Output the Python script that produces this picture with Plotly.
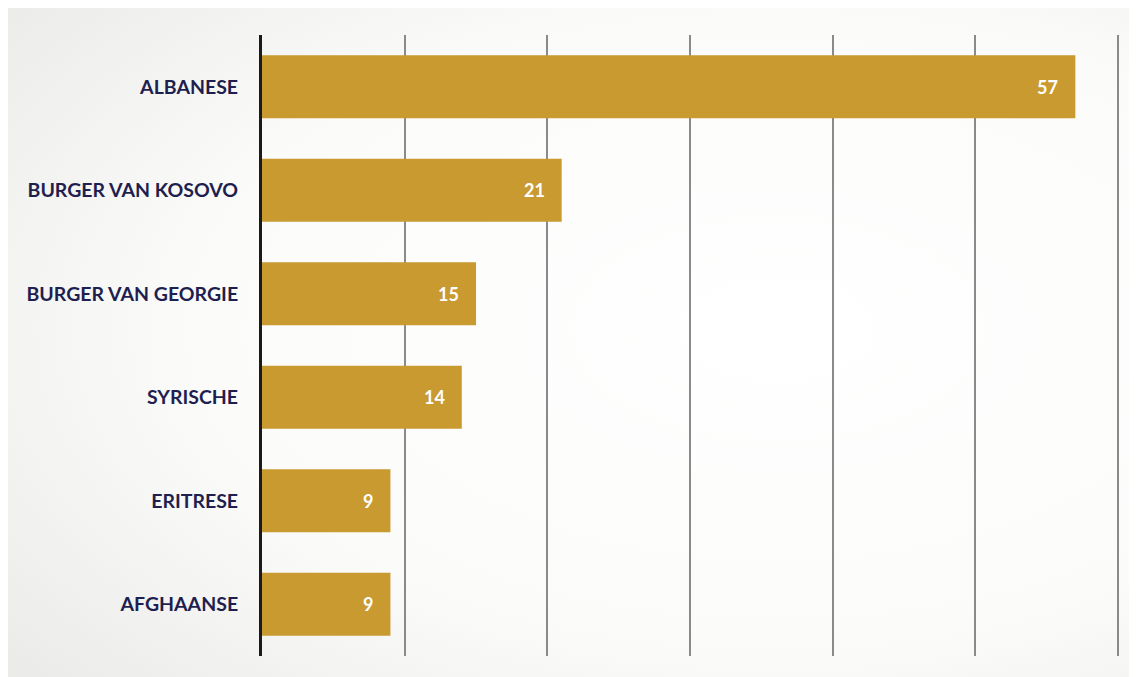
import plotly.graph_objects as go
import base64

categories = ["ALBANESE", "BURGER VAN KOSOVO", "BURGER VAN GEORGIE", "SYRISCHE", "ERITRESE", "AFGHAANSE"]
values = [57, 21, 15, 14, 9, 9]

bar_color = "#c89a30"
label_color = "#1f1f4f"

svg = (
    '<svg xmlns="http://www.w3.org/2000/svg" width="1137" height="677" viewBox="0 0 1137 677" preserveAspectRatio="none">'
    '<defs><radialGradient id="g" cx="0.55" cy="0.45" r="0.75">'
    '<stop offset="0" stop-color="#ffffff"/><stop offset="0.45" stop-color="#fbfbfa"/>'
    '<stop offset="0.8" stop-color="#e9e9e7"/><stop offset="1" stop-color="#dadad8"/>'
    '</radialGradient></defs><rect width="1137" height="677" fill="url(#g)"/></svg>'
)
bg_src = "data:image/svg+xml;base64," + base64.b64encode(svg.encode()).decode()

fig = go.Figure()
fig.add_trace(go.Bar(
    y=categories, x=values, orientation="h",
    marker=dict(color=bar_color, line=dict(width=0)),
    width=0.61,
    hoverinfo="skip",
))

for c, v in zip(categories, values):
    fig.add_annotation(x=v, y=c, text=f"<b>{v}</b>", showarrow=False,
                       xanchor="right", xshift=-15,
                       font=dict(family="Lato, Open Sans, sans-serif", size=18, color="white"))

fig.add_layout_image(dict(source=bg_src, xref="paper", yref="paper", x=-0.5, y=1.2,
                          sizex=2.0, sizey=1.5, sizing="stretch", layer="below",
                          xanchor="left", yanchor="top"))

fig.update_layout(
    width=1137, height=677,
    margin=dict(l=254, r=24, t=27, b=29),
    paper_bgcolor="#ececea",
    plot_bgcolor="rgba(0,0,0,0)",
    showlegend=False,
    bargap=0.39,
)
fig.update_xaxes(range=[0, 60.2], dtick=10, showgrid=True, gridcolor="#8a8a8a", gridwidth=1.5,
                 showticklabels=False, zeroline=False, showline=False, fixedrange=True)
fig.update_yaxes(autorange="reversed", showline=True, linecolor="#1a1a1a", linewidth=3,
                 ticks="", ticklabelstandoff=17,
                 tickfont=dict(family="Lato, Open Sans, sans-serif", size=19.5, color=label_color, weight="bold"),
                 showgrid=False, fixedrange=True)

fig.write_html("out.html")
